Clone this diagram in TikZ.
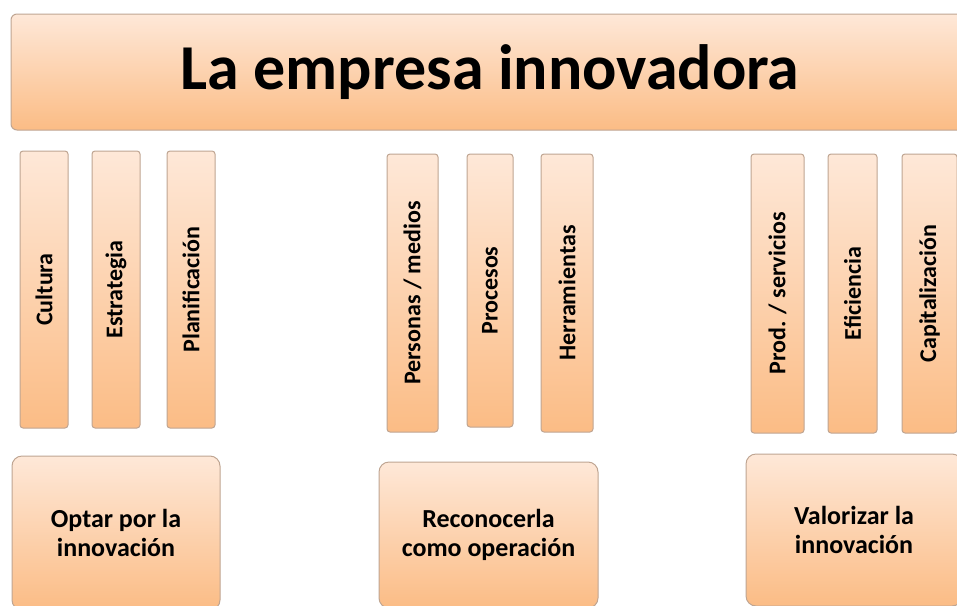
\documentclass[tikz,border=0pt]{standalone}
\usepackage{fontspec}
\setmainfont{Carlito}
\usepackage{tikz}
\usetikzlibrary{positioning}

\definecolor{peachtop}{HTML}{FEE8D8}
\definecolor{peachbot}{HTML}{FBBC85}
\definecolor{boxline}{HTML}{BFA592}

\begin{document}
\begin{tikzpicture}[x=1pt, y=-1pt,
    box/.style={draw=boxline, line width=1pt, top color=peachtop, bottom color=peachbot,
                inner sep=0pt, align=center},
    bar/.style={box, rounded corners=3pt},
    bartext/.style={rotate=90, font=\fontsize{24}{29}\selectfont\bfseries},
    goal/.style={box, rounded corners=10pt, font=\fontsize{26}{29}\selectfont\bfseries}]
    \useasboundingbox (0,0) rectangle (957,605);
    \clip (0,0) rectangle (957,605);

    % cabecera
    \node[box, rounded corners=6pt, minimum width=958pt, minimum height=116pt,
          font=\fontsize{64}{70}\selectfont\bfseries] (empresa) at (490,72) {La empresa innovadora};

    % barras izquierda
    \node[bar, minimum width=48pt, minimum height=277pt, label={[bartext]center:Cultura}] (cultura) at (44,289.5) {};
    \node[bar, minimum width=48pt, minimum height=277pt, label={[bartext]center:Estrategia}] (estrategia) at (116,289.5) {};
    \node[bar, minimum width=48pt, minimum height=277pt, label={[bartext]center:Planificación}] (planif) at (191,289.5) {};

    % barras centro
    \node[bar, minimum width=51pt, minimum height=278pt, label={[bartext]center:Personas / medios}] (personas) at (412.5,293) {};
    \node[bar, minimum width=46pt, minimum height=273pt, label={[bartext]center:Procesos}] (procesos) at (490,290.5) {};
    \node[bar, minimum width=52pt, minimum height=278pt, label={[bartext]center:Herramientas}] (herram) at (567,293) {};

    % barras derecha
    \node[bar, minimum width=53pt, minimum height=279pt, label={[bartext]center:Prod. / servicios}] (prod) at (777.5,293.5) {};
    \node[bar, minimum width=49pt, minimum height=279pt, label={[bartext]center:Eficiencia}] (eficiencia) at (852.5,293.5) {};
    \node[bar, minimum width=55pt, minimum height=279pt, label={[bartext]center:Capitalización}] (capital) at (929.5,293.5) {};

    % cajas inferiores
    \node[goal, minimum width=208pt, minimum height=154pt] (optar) at (116,533) {Optar por la\\innovación};
    \node[goal, minimum width=219pt, minimum height=146pt] (reconocer) at (488.5,535) {Reconocerla\\como operación};
    \node[goal, minimum width=216pt, minimum height=152pt] (valorizar) at (854,530) {Valorizar la\\innovación};
\end{tikzpicture}
\end{document}
